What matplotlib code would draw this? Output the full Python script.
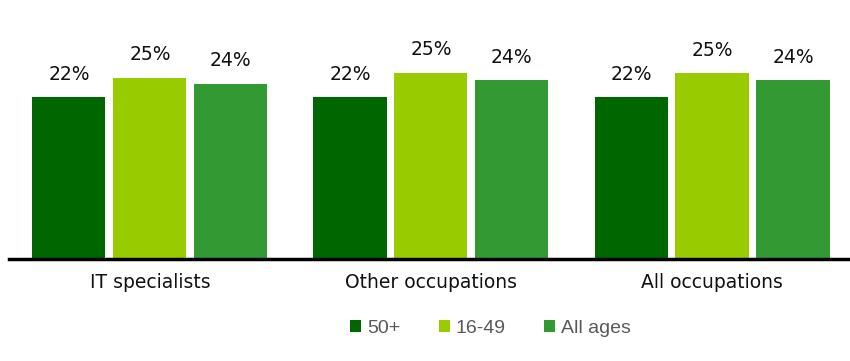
import matplotlib.pyplot as plt
import numpy as np

categories = ["IT specialists", "Other occupations", "All occupations"]
series_names = ["50+", "16-49", "All ages"]
age_50_plus = [22.0, 22.0, 22.0]
age_16_49 = [24.6, 25.3, 25.2]
all_ages = [23.8, 24.3, 24.3]
colors = ["#006600", "#99cc00", "#339933"]

fig = plt.figure(figsize=(8.5, 3.61), dpi=100)
ax = fig.add_axes([0.011, 0.2825, 0.992, 0.69])

x = np.arange(len(categories))
width = 0.26
offset = 0.288
handles = []
for i, (vals, name) in enumerate(zip([age_50_plus, age_16_49, all_ages], series_names)):
    bars = ax.bar(x + (i - 1) * offset, vals, width, color=colors[i], label=name)
    handles.append(bars)
    for b, v in zip(bars, vals):
        ax.text(b.get_x() + b.get_width() / 2, v + 1.8, f"{v:.0f}%",
                ha="center", va="bottom", fontsize=13.5, color="#111111")

ax.set_xlim(-0.5, 2.5)
ax.set_ylim(0, 33.8)
ax.set_yticks([])
ax.set_xticks(x)
ax.set_xticklabels(categories, fontsize=13.5, color="#111111")
ax.tick_params(axis="x", length=0, pad=10)
for s in ["top", "right", "left"]:
    ax.spines[s].set_visible(False)
ax.spines["bottom"].set_linewidth(2.5)
ax.spines["bottom"].set_color("black")

fig.legend(handles=handles, labels=series_names, loc="center",
           bbox_to_anchor=(0.577, 0.091), ncol=3, frameon=False,
           handlelength=0.55, handleheight=0.55, handletextpad=0.3,
           columnspacing=2.0,
           prop={"family": "Liberation Sans", "size": 14}, labelcolor="#595959")

fig.savefig("out.png", dpi=100)
